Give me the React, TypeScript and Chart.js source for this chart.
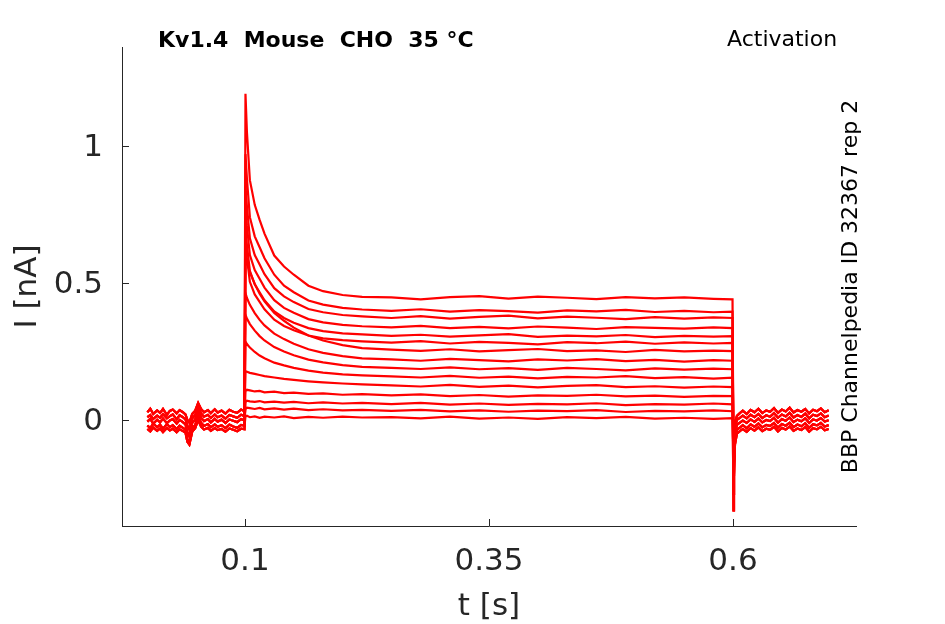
import { useEffect, useRef } from "react";
import { Chart, registerables } from "chart.js";

Chart.register(...registerables);

// time grids (s)
const preTimes = [0, 0.003, 0.006, 0.01, 0.013, 0.016, 0.02, 0.023, 0.026, 0.03, 0.033, 0.036, 0.039, 0.041, 0.043, 0.046, 0.049, 0.052, 0.055, 0.058, 0.062, 0.065, 0.069, 0.072, 0.076, 0.08, 0.084, 0.088, 0.092, 0.096, 0.0995];
const stepTimes = [0.1005, 0.102, 0.105, 0.11, 0.115, 0.12, 0.13, 0.14, 0.15, 0.165, 0.18, 0.2, 0.22, 0.25, 0.28, 0.31, 0.34, 0.37, 0.4, 0.43, 0.46, 0.49, 0.52, 0.55, 0.58, 0.5995];
const tailTimes = [0.6005, 0.601, 0.602, 0.604, 0.607, 0.61, 0.614, 0.618, 0.622, 0.626, 0.63, 0.634, 0.638, 0.642, 0.646, 0.65, 0.654, 0.658, 0.662, 0.666, 0.67, 0.674, 0.678, 0.682, 0.686, 0.69, 0.694, 0.698];

// holding current before the step (nA)
const baseA = [0.028, 0.041, 0.022, 0.035, 0.026, 0.04, 0.019, 0.033, 0.038, 0.024, 0.036, 0.029, 0.02, 0.0, -0.01, 0.022, 0.034, 0.062, 0.04, 0.028, 0.036, 0.025, 0.039, 0.027, 0.034, 0.023, 0.037, 0.03, 0.026, 0.038, 0.032];
const baseB = [0.01, 0.018, 0.004, 0.016, 0.008, 0.021, 0.006, 0.014, 0.02, 0.003, 0.017, 0.011, 0.002, -0.02, -0.035, 0.006, 0.018, 0.05, 0.024, 0.012, 0.019, 0.007, 0.02, 0.01, 0.016, 0.005, 0.018, 0.013, 0.008, 0.019, 0.014];
const baseC = [-0.006, 0.004, -0.014, 0.001, -0.009, 0.005, -0.012, -0.002, 0.003, -0.013, 0.0, -0.007, -0.016, -0.045, -0.06, -0.01, 0.002, 0.035, 0.008, -0.004, 0.003, -0.009, 0.004, -0.006, 0.001, -0.011, 0.002, -0.003, -0.008, 0.003, -0.002];
const baseD = [-0.02, -0.03, -0.013, -0.027, -0.017, -0.032, -0.015, -0.026, -0.019, -0.033, -0.021, -0.028, -0.035, -0.07, -0.085, -0.03, -0.018, 0.015, -0.01, -0.022, -0.015, -0.027, -0.016, -0.025, -0.019, -0.03, -0.017, -0.024, -0.029, -0.018, -0.021];
const baseE = [-0.033, -0.042, -0.028, -0.04, -0.031, -0.044, -0.029, -0.038, -0.032, -0.045, -0.034, -0.04, -0.046, -0.08, -0.09, -0.042, -0.03, 0.0, -0.024, -0.035, -0.029, -0.04, -0.03, -0.037, -0.033, -0.043, -0.031, -0.036, -0.041, -0.032, -0.034];

// current after the step (nA)
const tailA = [-0.08, -0.04, -0.01, 0.015, 0.025, 0.034, 0.022, 0.037, 0.028, 0.041, 0.025, 0.035, 0.03, 0.043, 0.026, 0.038, 0.031, 0.045, 0.027, 0.036, 0.03, 0.04, 0.024, 0.037, 0.032, 0.042, 0.028, 0.035];
const tailB = [-0.14, -0.08, -0.03, 0.0, 0.008, 0.016, 0.006, 0.019, 0.01, 0.022, 0.007, 0.017, 0.012, 0.025, 0.008, 0.02, 0.013, 0.026, 0.009, 0.018, 0.011, 0.023, 0.006, 0.019, 0.014, 0.024, 0.01, 0.016];
const tailC = [-0.2, -0.12, -0.05, -0.018, -0.01, -0.002, -0.011, 0.002, -0.007, 0.005, -0.009, 0.0, -0.004, 0.008, -0.01, 0.003, -0.003, 0.009, -0.008, 0.001, -0.005, 0.006, -0.011, 0.002, -0.002, 0.007, -0.006, -0.001];
const tailD = [-0.27, -0.16, -0.07, -0.035, -0.028, -0.019, -0.03, -0.016, -0.025, -0.013, -0.027, -0.018, -0.022, -0.011, -0.028, -0.015, -0.021, -0.01, -0.026, -0.017, -0.023, -0.012, -0.029, -0.016, -0.02, -0.011, -0.024, -0.019];
const tailE = [-0.33, -0.2, -0.09, -0.05, -0.041, -0.033, -0.043, -0.03, -0.039, -0.027, -0.041, -0.032, -0.036, -0.025, -0.042, -0.029, -0.035, -0.024, -0.04, -0.031, -0.037, -0.026, -0.043, -0.03, -0.034, -0.025, -0.038, -0.033];

// current during the step, one row per sweep (nA)
const sweeps = [
  [1.19, 1.05, 0.875, 0.785, 0.73, 0.68, 0.6, 0.56, 0.53, 0.49, 0.47, 0.456, 0.449, 0.447, 0.44, 0.448, 0.452, 0.443, 0.45, 0.446, 0.441, 0.448, 0.444, 0.447, 0.442, 0.44],
  [0.97, 0.88, 0.74, 0.67, 0.63, 0.59, 0.53, 0.49, 0.466, 0.436, 0.421, 0.409, 0.403, 0.398, 0.404, 0.395, 0.401, 0.397, 0.392, 0.4, 0.396, 0.402, 0.394, 0.398, 0.393, 0.395],
  [0.855, 0.78, 0.663, 0.602, 0.567, 0.532, 0.481, 0.451, 0.43, 0.405, 0.393, 0.383, 0.378, 0.372, 0.379, 0.37, 0.376, 0.381, 0.371, 0.377, 0.373, 0.368, 0.375, 0.37, 0.374, 0.372],
  [0.777, 0.708, 0.602, 0.547, 0.515, 0.483, 0.437, 0.409, 0.391, 0.368, 0.356, 0.347, 0.342, 0.338, 0.343, 0.335, 0.34, 0.334, 0.341, 0.337, 0.332, 0.339, 0.336, 0.333, 0.338, 0.335],
  [0.7, 0.638, 0.544, 0.495, 0.466, 0.437, 0.396, 0.372, 0.355, 0.335, 0.324, 0.316, 0.312, 0.307, 0.311, 0.304, 0.309, 0.313, 0.303, 0.308, 0.305, 0.31, 0.302, 0.307, 0.304, 0.306],
  [0.65, 0.593, 0.504, 0.458, 0.431, 0.404, 0.366, 0.343, 0.327, 0.308, 0.298, 0.291, 0.287, 0.282, 0.288, 0.279, 0.285, 0.281, 0.276, 0.284, 0.28, 0.286, 0.278, 0.283, 0.279, 0.281],
  [0.599, 0.575, 0.539, 0.496, 0.461, 0.433, 0.39, 0.362, 0.337, 0.308, 0.29, 0.273, 0.262, 0.257, 0.252, 0.258, 0.25, 0.255, 0.259, 0.251, 0.254, 0.248, 0.256, 0.25, 0.253, 0.251],
  [0.463, 0.445, 0.42, 0.39, 0.365, 0.345, 0.315, 0.295, 0.278, 0.258, 0.245, 0.233, 0.225, 0.221, 0.216, 0.223, 0.218, 0.214, 0.221, 0.217, 0.222, 0.215, 0.219, 0.213, 0.218, 0.216],
  [0.384, 0.37, 0.35, 0.326, 0.306, 0.29, 0.266, 0.25, 0.236, 0.22, 0.21, 0.2, 0.194, 0.19, 0.186, 0.192, 0.185, 0.189, 0.183, 0.19, 0.186, 0.181, 0.188, 0.184, 0.187, 0.185],
  [0.286, 0.277, 0.264, 0.248, 0.235, 0.225, 0.209, 0.199, 0.19, 0.18, 0.173, 0.166, 0.163, 0.159, 0.155, 0.161, 0.154, 0.158, 0.152, 0.157, 0.155, 0.16, 0.153, 0.156, 0.151, 0.154],
  [0.178, 0.176, 0.172, 0.168, 0.164, 0.16, 0.155, 0.15, 0.146, 0.141, 0.137, 0.133, 0.13, 0.126, 0.122, 0.128, 0.121, 0.125, 0.119, 0.124, 0.127, 0.12, 0.123, 0.118, 0.122, 0.12],
  [0.105, 0.11, 0.108, 0.104, 0.106, 0.101, 0.103, 0.098, 0.1, 0.095, 0.097, 0.092, 0.094, 0.09, 0.093, 0.087, 0.091, 0.085, 0.09, 0.088, 0.092, 0.086, 0.089, 0.084, 0.088, 0.087],
  [0.065, 0.07, 0.068, 0.066, 0.069, 0.064, 0.067, 0.063, 0.066, 0.061, 0.064, 0.06, 0.062, 0.058, 0.062, 0.056, 0.06, 0.055, 0.059, 0.057, 0.061, 0.054, 0.058, 0.056, 0.06, 0.057],
  [0.04, 0.045, 0.043, 0.04, 0.044, 0.039, 0.042, 0.038, 0.041, 0.036, 0.039, 0.035, 0.037, 0.033, 0.037, 0.031, 0.035, 0.03, 0.034, 0.032, 0.036, 0.029, 0.033, 0.031, 0.035, 0.032],
  [0.012, 0.015, 0.01, 0.013, 0.008, 0.012, 0.009, 0.013, 0.007, 0.011, 0.008, 0.012, 0.009, 0.01, 0.006, 0.012, 0.005, 0.009, 0.004, 0.01, 0.007, 0.011, 0.005, 0.008, 0.004, 0.007],
];

const xTicks = [0.1, 0.35, 0.6];
const yTicks = [0, 0.5, 1];

const titleText = "Kv1.4  Mouse  CHO  35 °C";
const cornerText = "Activation";
const sideText = "BBP Channelpedia ID 32367 rep 2";

const AXIS = "#262626";
const FONT = "'DejaVu Sans', sans-serif";

const bases = [baseA, baseC, baseE, baseB, baseD];
const tails = [tailE, tailC, tailA, tailD, tailB];

const decorations = {
  id: "decorations",
  afterDraw(chart: Chart) {
    const { ctx, chartArea, scales } = chart;
    const xs = scales.x;
    const ys = scales.y;
    ctx.save();
    ctx.strokeStyle = AXIS;
    ctx.lineWidth = 1;
    ctx.beginPath();
    for (const v of xTicks) {
      const px = Math.round(xs.getPixelForValue(v)) + 0.5;
      ctx.moveTo(px, chartArea.bottom);
      ctx.lineTo(px, chartArea.bottom - 7);
    }
    for (const v of yTicks) {
      const py = Math.round(ys.getPixelForValue(v)) + 0.5;
      ctx.moveTo(chartArea.left, py);
      ctx.lineTo(chartArea.left + 7, py);
    }
    ctx.stroke();

    ctx.fillStyle = "#000";
    ctx.textBaseline = "alphabetic";
    ctx.textAlign = "left";
    ctx.font = `bold 22px ${FONT}`;
    ctx.fillText(titleText, 158, 47);
    ctx.font = `22px ${FONT}`;
    ctx.fillText(cornerText, 727, 46);

    ctx.translate(857, (chartArea.top + chartArea.bottom) / 2);
    ctx.rotate(-Math.PI / 2);
    ctx.textAlign = "center";
    ctx.fillText(sideText, 0, 0);
    ctx.restore();
  },
};

export default function App() {
  const canvasRef = useRef<HTMLCanvasElement>(null);

  useEffect(() => {
    const ctx = canvasRef.current?.getContext("2d");
    if (!ctx) return;

    const datasets = sweeps.map((row, i) => {
      const base = bases[i % 5];
      const tail = tails[i % 5];
      const pts = [
        ...preTimes.map((t, k) => ({ x: t, y: base[k] })),
        ...stepTimes.map((t, k) => ({ x: t, y: row[k] })),
        ...tailTimes.map((t, k) => ({ x: t, y: tail[k] })),
      ];
      return {
        data: pts,
        borderColor: "#ff0000",
        borderWidth: 2.2,
        pointRadius: 0,
        tension: 0,
        fill: false,
      };
    });

    const chart = new Chart(ctx, {
      type: "line",
      data: { datasets },
      options: {
        animation: false,
        responsive: true,
        maintainAspectRatio: false,
        layout: { padding: { left: 0, top: 47, right: 89, bottom: 0 } },
        plugins: { legend: { display: false }, tooltip: { enabled: false } },
        scales: {
          x: {
            type: "linear",
            min: -0.026,
            max: 0.726,
            afterBuildTicks: (s: any) => {
              s.ticks = xTicks.map((v) => ({ value: v }));
            },
            afterFit: (s: any) => {
              s.height = 98;
            },
            ticks: {
              color: AXIS,
              font: { family: FONT, size: 31 },
              padding: 17,
              maxRotation: 0,
              callback: (v: any) => String(v),
            },
            grid: { display: false, drawTicks: false },
            border: { display: true, color: AXIS, width: 1 },
            title: {
              display: true,
              text: "t [s]",
              color: AXIS,
              font: { family: FONT, size: 31 },
              padding: { top: 0, bottom: -2 },
            },
          },
          y: {
            type: "linear",
            min: -0.387,
            max: 1.361,
            afterBuildTicks: (s: any) => {
              s.ticks = yTicks.map((v) => ({ value: v }));
            },
            afterFit: (s: any) => {
              s.width = 122;
            },
            ticks: {
              color: AXIS,
              font: { family: FONT, size: 31 },
              padding: 19,
              labelOffset: 2,
              callback: (v: any) => String(v),
            },
            grid: { display: false, drawTicks: false },
            border: { display: true, color: AXIS, width: 1 },
            title: {
              display: true,
              text: "I [nA]",
              color: AXIS,
              font: { family: FONT, size: 31 },
              padding: { top: 9, bottom: 0 },
            },
          },
        },
      },
      plugins: [decorations],
    });

    return () => {
      chart.destroy();
    };
  }, []);

  return (
    <div style={{ position: "fixed", left: 0, top: 0, width: 945, height: 624, background: "#fff" }}>
      <canvas ref={canvasRef} />
    </div>
  );
}
